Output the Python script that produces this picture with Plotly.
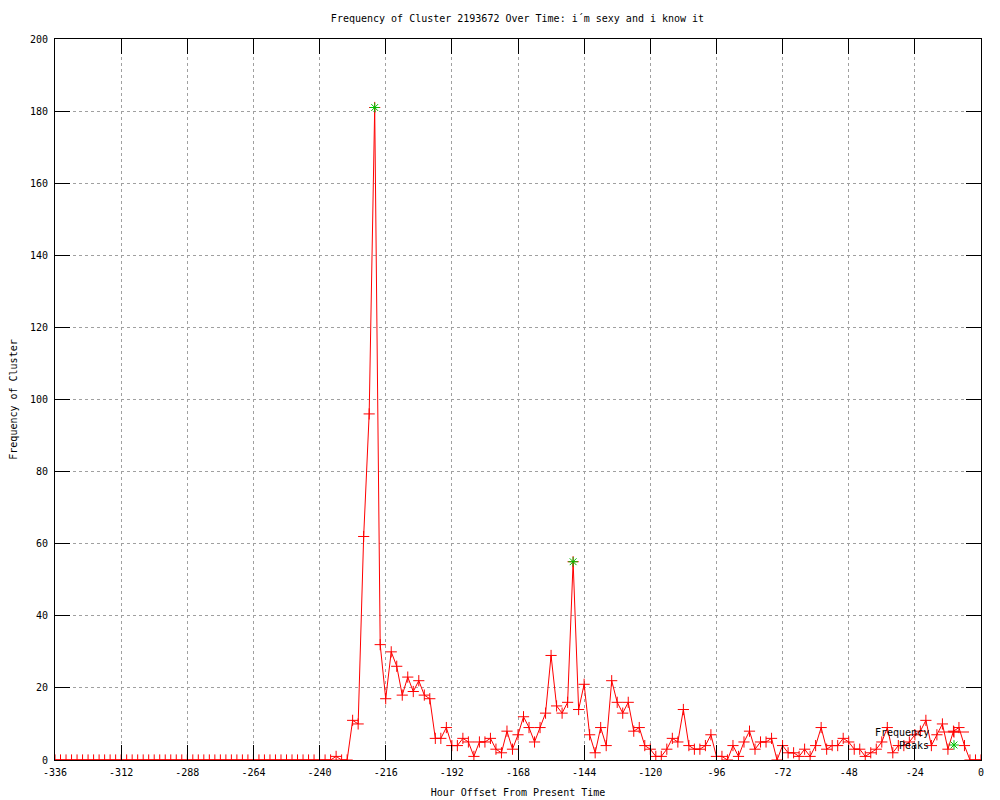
import plotly.graph_objects as go

# Hour offsets (every 2 hours from -336 to 0)
hours = list(range(-336, 1, 2))

# Frequency of cluster at each hour offset
frequency = [
    0, 0, 0, 0, 0, 0, 0, 0, 0, 0,   # -336 .. -318
    0, 0, 0, 0, 0, 0, 0, 0, 0, 0,   # -316 .. -298
    0, 0, 0, 0, 0, 0, 0, 0, 0, 0,   # -296 .. -278
    0, 0, 0, 0, 0, 0, 0, 0, 0, 0,   # -276 .. -258
    0, 0, 0, 0, 0, 0, 0, 0, 0, 0,   # -256 .. -238
    0, 1, 0, 0, 11, 10, 62, 96, 181, 32,     # -236 .. -218
    17, 30, 26, 18, 23, 19, 22, 18, 17, 6,   # -216 .. -198
    6, 9, 4, 4, 6, 5, 1, 5, 5, 6,            # -196 .. -178
    3, 2, 8, 3, 7, 12, 9, 5, 9, 13,          # -176 .. -158
    29, 15, 13, 16, 55, 14, 21, 7, 2, 9,     # -156 .. -138
    4, 22, 16, 13, 16, 8, 9, 4, 3, 1,        # -136 .. -118
    1, 3, 6, 5, 14, 4, 3, 3, 4, 7,           # -116 .. -98
    1, 1, 0, 4, 1, 5, 8, 3, 5, 5,            # -96 .. -78
    6, 0, 4, 2, 2, 1, 3, 1, 4, 9,            # -76 .. -58
    3, 4, 4, 6, 5, 3, 3, 1, 2, 3,            # -56 .. -38
    5, 9, 2, 4, 4, 5, 7, 8, 11, 4,           # -36 .. -18
    7, 10, 3, 8, 9, 4, 0, 0, 0,              # -16 .. 0
]

# Detected peaks
peak_hours = [-220, -148]
peak_values = [181, 55]

x_ticks = list(range(-336, 1, 24))
y_ticks = list(range(0, 201, 20))

FONT = "DejaVu Sans Mono"

fig = go.Figure()
fig.add_trace(go.Scatter(
    x=hours, y=frequency, mode="lines+markers", name="Frequency",
    line=dict(color="#ff0000", width=1),
    marker=dict(symbol="cross-thin-open", size=8, line=dict(color="#ff0000", width=1)),
    legend="legend",
))
fig.add_trace(go.Scatter(
    x=peak_hours, y=peak_values, mode="markers", name="Peaks",
    marker=dict(symbol="asterisk-open", size=8, color="#00c000",
                line=dict(color="#00c000", width=1)),
    legend="legend2",
))

# The page body has an 8px default margin, so the figure starts at (8, 8).
OFF = 8
L, R, T, B = 55 - OFF, 1000 - 981 + OFF, 39 - OFF, 800 - 760 + OFF
pw = 1000 - L - R
ph = 800 - T - B

def px_x(px):  # page pixel -> paper x
    return (px - OFF - L) / pw

def px_y(py):  # page pixel -> paper y
    return (800 - B - (py - OFF)) / ph

axis_common = dict(
    showline=True, linecolor="black", linewidth=1, mirror="ticks",
    ticks="inside", ticklen=15, tickcolor="black", tickwidth=1,
    showgrid=True, gridcolor="#a0a0a0", gridwidth=1, griddash="3px,3px",
    zeroline=False, automargin=False,
    tickfont=dict(family=FONT, size=10, color="black"),
)

fig.update_xaxes(
    range=[-336, 0], tickmode="array", tickvals=x_ticks,
    ticktext=[str(v) for v in x_ticks], ticklabelstandoff=3,
    title=dict(text="Hour Offset From Present Time",
               font=dict(family=FONT, size=10, color="black"), standoff=11),
    **axis_common,
)
fig.update_yaxes(
    range=[0, 200], tickmode="array", tickvals=y_ticks,
    ticktext=[str(v) for v in y_ticks], ticklabelstandoff=4,
    title=dict(text="Frequency of Cluster",
               font=dict(family=FONT, size=10, color="black"), standoff=14),
    **axis_common,
)

legend_common = dict(
    bgcolor="rgba(0,0,0,0)", borderwidth=0,
    font=dict(family=FONT, size=1, color="rgba(0,0,0,0)"),
    xanchor="left", yanchor="middle", itemwidth=30,
)

fig.update_layout(
    width=1000, height=800,
    margin=dict(l=L, r=R, t=T, b=B, autoexpand=False),
    paper_bgcolor="white", plot_bgcolor="white",
    font=dict(family=FONT, size=10, color="black"),
    title=dict(text="Frequency of Cluster 2193672 Over Time: i\u00b4m sexy and i know it",
               x=px_x(517.5), xanchor="center", xref="paper",
               y=1 - (18 - OFF) / 800, yanchor="middle", yref="container",
               font=dict(family=FONT, size=10, color="black")),
    showlegend=True,
    legend=dict(x=px_x(934), y=px_y(732), **legend_common),
    legend2=dict(x=px_x(934), y=px_y(745), **legend_common),
    annotations=[
        dict(text="Frequency", x=px_x(931), y=px_y(732), xref="paper", yref="paper",
             xanchor="right", yanchor="middle", showarrow=False,
             font=dict(family=FONT, size=10, color="black")),
        dict(text="Peaks", x=px_x(931), y=px_y(745), xref="paper", yref="paper",
             xanchor="right", yanchor="middle", showarrow=False,
             font=dict(family=FONT, size=10, color="black")),
    ],
)

fig.write_html("out.html")
